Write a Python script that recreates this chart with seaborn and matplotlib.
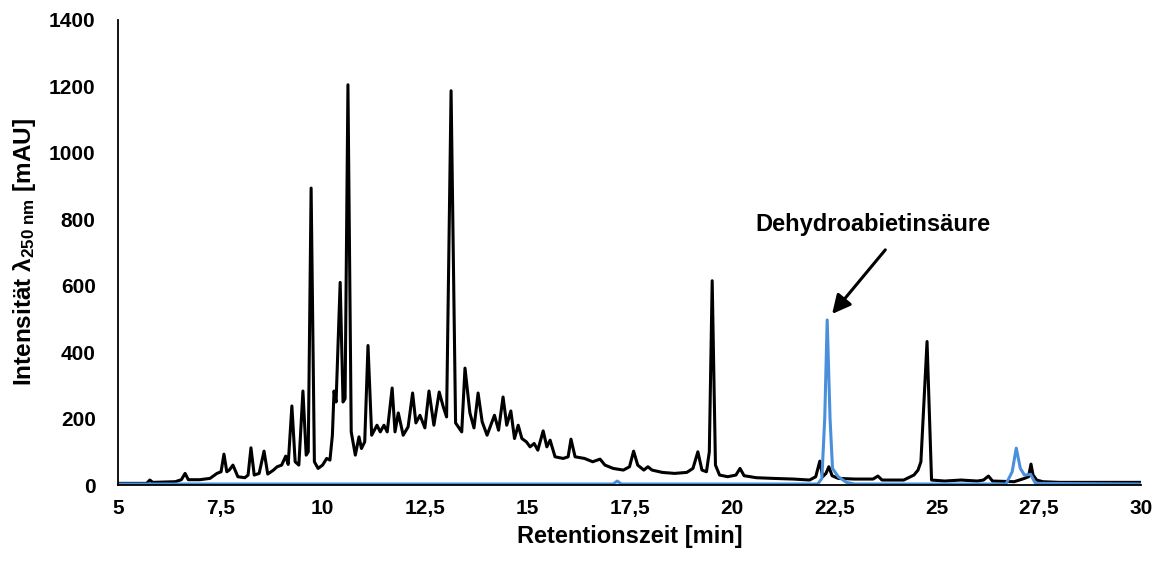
import numpy as np
import pandas as pd
import matplotlib
matplotlib.use("Agg")
import matplotlib.pyplot as plt
import seaborn as sns

# ---- data ----
black_t = [5.0, 5.7, 5.78, 5.85, 6.4, 6.55, 6.64, 6.72, 7.0, 7.25, 7.42, 7.52, 7.59, 7.66, 7.72, 7.81,
           7.93, 8.1, 8.18, 8.25, 8.33, 8.45, 8.57, 8.66, 8.8, 8.89, 9.0, 9.1, 9.16, 9.25, 9.33, 9.42,
           9.52, 9.6, 9.65, 9.72, 9.8, 9.89, 10.0, 10.1, 10.18, 10.24, 10.28, 10.33, 10.43, 10.5, 10.55,
           10.62, 10.7, 10.8, 10.89, 10.95, 11.03, 11.11, 11.2, 11.33, 11.41, 11.5, 11.58, 11.7, 11.77,
           11.85, 11.97, 12.09, 12.2, 12.28, 12.38, 12.5, 12.6, 12.72, 12.85, 12.95, 13.03, 13.14, 13.25,
           13.4, 13.48, 13.6, 13.7, 13.8, 13.9, 14.02, 14.2, 14.3, 14.41, 14.5, 14.6, 14.69, 14.78, 14.87,
           14.98, 15.07, 15.17, 15.26, 15.39, 15.48, 15.56, 15.68, 15.88, 16.0, 16.07, 16.17, 16.4, 16.6,
           16.78, 16.9, 17.1, 17.35, 17.5, 17.6, 17.7, 17.85, 17.95, 18.05, 18.3, 18.6, 18.9, 19.05, 19.17,
           19.27, 19.38, 19.45, 19.52, 19.6, 19.7, 19.9, 20.1, 20.2, 20.3, 20.6, 21.0, 21.5, 21.9, 22.05,
           22.15, 22.22, 22.3, 22.37, 22.45, 22.6, 23.0, 23.45, 23.57, 23.67, 24.2, 24.45, 24.55, 24.62,
           24.77, 24.88, 25.2, 25.6, 26.0, 26.15, 26.27, 26.37, 26.9, 27.15, 27.25, 27.31, 27.36, 27.45,
           27.6, 28.0, 30.0]
black_y = [5, 5, 15, 8, 10, 16, 35, 16, 16, 20, 35, 40, 93, 40, 45, 60,
           25, 22, 30, 112, 30, 35, 102, 33, 45, 55, 60, 87, 62, 238, 70, 60,
           283, 90, 100, 894, 70, 50, 60, 80, 75, 150, 283, 250, 610, 250, 260,
           1205, 160, 90, 145, 110, 130, 420, 150, 180, 160, 180, 160, 292, 160,
           217, 150, 175, 277, 187, 210, 172, 283, 180, 280, 235, 205, 1187, 187,
           160, 352, 217, 172, 277, 190, 150, 210, 165, 265, 180, 223, 140, 180, 140,
           130, 115, 125, 105, 163, 115, 135, 85, 80, 85, 138, 85, 80, 70,
           78, 60, 50, 45, 55, 102, 60, 45, 55, 45, 38, 35, 38, 50, 100,
           45, 40, 100, 615, 60, 30, 25, 30, 50, 28, 22, 20, 18, 15, 25,
           72, 25, 35, 55, 28, 20, 18, 18, 27, 15, 15, 30, 45, 70,
           432, 15, 12, 15, 12, 15, 27, 12, 10, 20, 25, 63, 30, 15,
           10, 8, 8]

blue_t = [5.0, 17.1, 17.2, 17.3, 22.1, 22.2, 22.27, 22.33, 22.4, 22.46, 22.6, 22.8, 23.0,
          26.7, 26.85, 26.95, 27.05, 27.15, 27.3, 27.42, 30.0]
blue_y = [3, 3, 12, 3, 3, 20, 200, 497, 200, 50, 25, 8, 3,
          3, 40, 111, 50, 30, 32, 5, 3]

x_ticks = [5, 7.5, 10, 12.5, 15, 17.5, 20, 22.5, 25, 27.5, 30]
x_tick_labels = ["5", "7,5", "10", "12,5", "15", "17,5", "20", "22,5", "25", "27,5", "30"]
y_ticks = [0, 200, 400, 600, 800, 1000, 1200, 1400]
annotation_label = "Dehydroabietinsäure"

# ---- styling ----
sns.set_style("white")
plt.rcParams["font.family"] = ["Liberation Sans", "DejaVu Sans"]
plt.rcParams["font.weight"] = "bold"
plt.rcParams["text.color"] = "black"
plt.rcParams["axes.labelcolor"] = "black"
plt.rcParams["xtick.color"] = "black"
plt.rcParams["ytick.color"] = "black"
plt.rcParams["mathtext.fontset"] = "custom"
plt.rcParams["mathtext.rm"] = "Liberation Sans:bold"
plt.rcParams["mathtext.it"] = "Liberation Sans:bold"
plt.rcParams["mathtext.bf"] = "Liberation Sans:bold"
plt.rcParams["mathtext.default"] = "rm"

fig = plt.figure(figsize=(11.62, 5.63), dpi=100)
ax = fig.add_axes([0.1015, 0.1385, 0.8805, 0.826])

df_black = pd.DataFrame({"t": black_t, "y": black_y})
df_blue = pd.DataFrame({"t": blue_t, "y": blue_y})

sns.lineplot(data=df_black, x="t", y="y", color="black", lw=2.2, ax=ax, sort=False)
sns.lineplot(data=df_blue, x="t", y="y", color="#4A8FDB", lw=2.2, ax=ax, sort=False)

ax.set_xlim(5, 30)
ax.set_ylim(0, 1400)
ax.set_xticks(x_ticks)
ax.set_xticklabels(x_tick_labels)
ax.set_yticks(y_ticks)
ax.tick_params(axis="both", length=0, labelsize=15, colors="black")
ax.tick_params(axis="x", pad=10)
ax.tick_params(axis="y", pad=16)
for lab in ax.get_xticklabels() + ax.get_yticklabels():
    lab.set_fontweight("bold")

for side in ["top", "right"]:
    ax.spines[side].set_visible(False)
for side in ["left", "bottom"]:
    ax.spines[side].set_color("black")
    ax.spines[side].set_linewidth(1.3)

ax.set_xlabel("Retentionszeit [min]", fontsize=17, fontweight="bold", labelpad=5, color="black")
ax.set_ylabel("Intensität λ$_{250\\ nm}$ [mAU]", fontsize=17.5, fontweight="bold", labelpad=8,
              color="black")

ax.annotate("", xy=(22.45, 515), xytext=(23.75, 708),
            arrowprops=dict(arrowstyle="-|>", color="black", lw=2.2, mutation_scale=28,
                            shrinkA=0, shrinkB=0))
ax.text(23.45, 785, annotation_label, ha="center", va="center", fontsize=17, fontweight="bold",
        color="black")

fig.savefig("out.png", dpi=100)
